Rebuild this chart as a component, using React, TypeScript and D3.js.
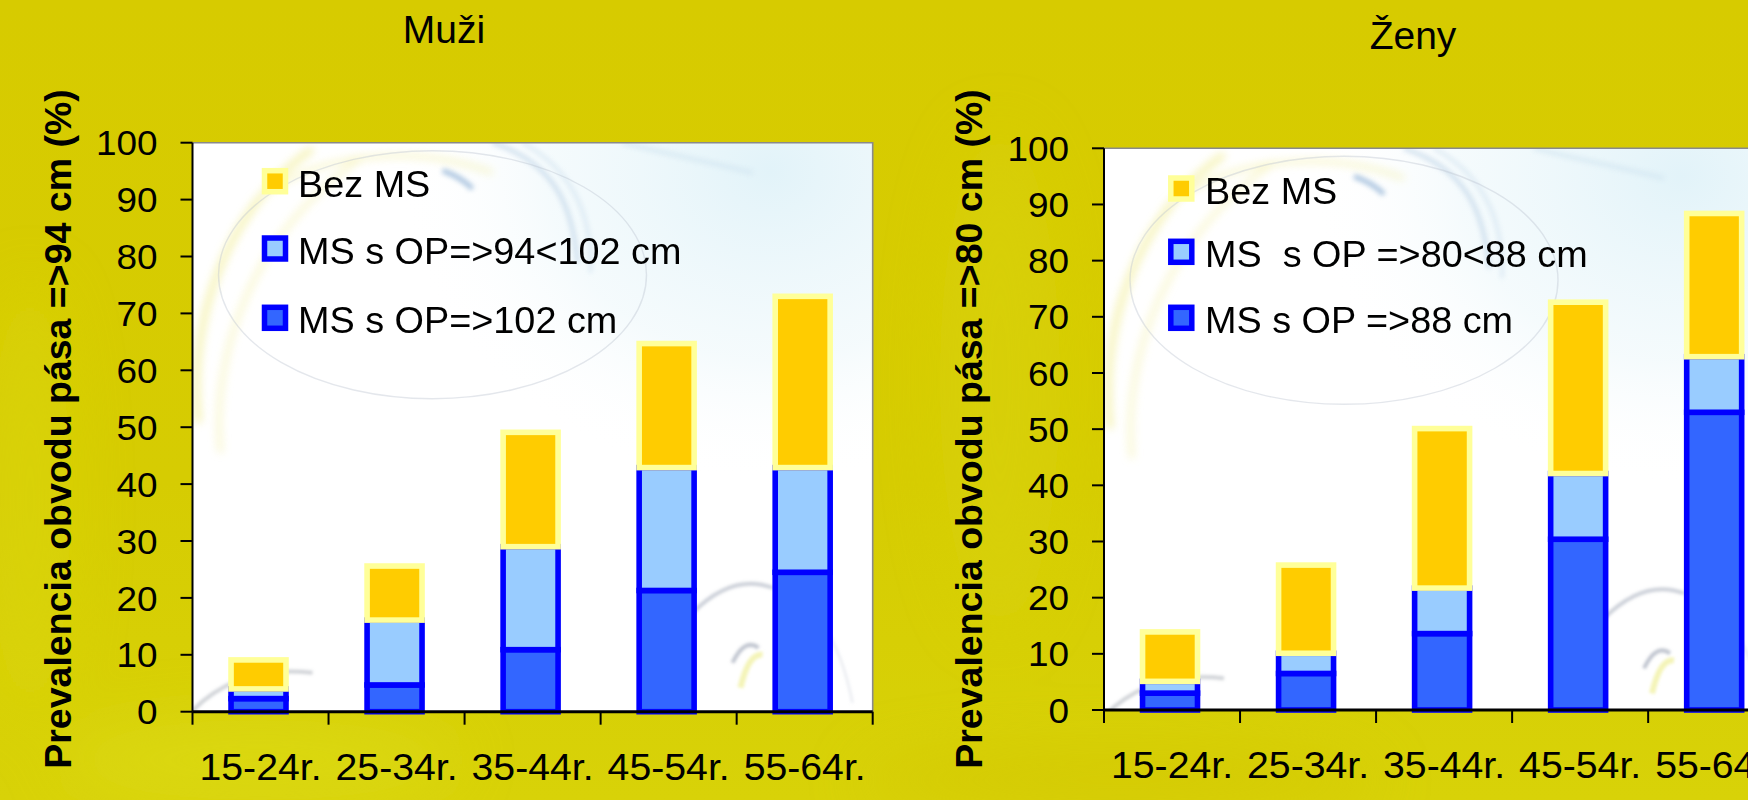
import React, { useEffect } from 'react';
import * as d3 from 'd3';

const WIDTH = 1748;
const HEIGHT = 800;
const FONT = '"Liberation Sans", Arial, Helvetica, sans-serif';

// Age groups and axis ticks
const categories = ['15-24r.', '25-34r.', '35-44r.', '45-54r.', '55-64r.'];
const yTicks = [0, 10, 20, 30, 40, 50, 60, 70, 80, 90, 100];

// Men (%): stacked from the bottom
const menWaistOver102 = [2.3, 4.7, 10.9, 21.3, 24.5];
const menWaist94to102 = [1.7, 11.4, 18.1, 21.6, 18.4];
const menNoMS = [5.1, 9.5, 20.1, 21.8, 30.1];

// Women (%): stacked from the bottom
const womenWaistOver88 = [3.0, 6.5, 13.6, 30.4, 53.0];
const womenWaist80to88 = [2.1, 3.6, 8.1, 11.7, 9.9];
const womenNoMS = [8.8, 15.7, 28.4, 30.5, 25.5];

const menLegend = ['Bez MS', 'MS s OP=>94<102 cm', 'MS s OP=>102 cm'];
const womenLegend = ['Bez MS', 'MS  s OP =>80<88 cm', 'MS s OP =>88 cm'];

const KEYS = ['high', 'mid', 'none'] as const;
type Key = (typeof KEYS)[number];

const STYLE: Record<Key, { fill: string; stroke: string }> = {
  high: { fill: '#3366FF', stroke: '#0000FF' },
  mid: { fill: '#99CCFF', stroke: '#0000FF' },
  none: { fill: '#FFCC00', stroke: '#FFFF99' },
};

type PanelProps = {
  id: string;
  title: string;
  titleX: number;
  titleY: number;
  yTitle: string;
  yTitleX: number;
  yTitleY: number;
  left: number;
  top: number;
  bottom: number;
  high: number[];
  mid: number[];
  none: number[];
  legend: string[];
  legendSwatchX: number;
  legendTextX: number;
  legendBaselines: number[];
};

const PLOT_W = 680.2;

// Text in this slide is rendered slightly wide; stretch glyphs horizontally around an anchor.
function Wide({ x, y, sx = 1.05, children }: { x: number; y: number; sx?: number; children: React.ReactNode }) {
  return <g transform={`translate(${x},${y}) scale(${sx},1)`}>{children}</g>;
}

function Decor({ w, h }: { w: number; h: number }) {
  return (
    <g>
      <rect x={0} y={0} width={w} height={h} fill="#ffffff" />
      <rect x={0} y={0} width={w} height={h} fill="url(#cyanTint)" />
      {/* faint yellow swirls at the left */}
      <g filter="url(#soft3)" fill="none" opacity={0.7}>
        <path d="M 6 280 C -4 180, 30 70, 120 6" stroke="#f2ee9a" strokeWidth={7} />
        <path d="M 28 310 C 18 210, 60 90, 170 14" stroke="#f6f3b8" strokeWidth={5} />
        <path d="M 60 60 C 120 10, 220 0, 300 30" stroke="#f4f0a8" strokeWidth={4} />
      </g>
      {/* blue streaks falling from the top */}
      <g filter="url(#soft2)" fill="none" opacity={0.65}>
        <path d="M 300 0 C 360 20, 380 60, 385 120" stroke="#b8cfe4" strokeWidth={4} />
        <path d="M 330 0 C 385 30, 400 80, 398 130" stroke="#c8dcec" strokeWidth={3} />
        <path d="M 250 28 C 262 32, 272 38, 280 46" stroke="#7fa6cf" strokeWidth={5} />
        <path d="M 430 0 C 470 10, 520 20, 560 30" stroke="#cfe3ef" strokeWidth={4} />
      </g>
      {/* thin ring */}
      <ellipse cx={240} cy={132} rx={214} ry={124} fill="none" stroke="#bcc2cf" strokeWidth={1.4} opacity={0.4} />
      {/* arcs near the bottom */}
      <g filter="url(#soft1)" fill="none">
        <path d="M 0 568 Q 45 522 120 530" stroke="#9aa0a8" strokeWidth={4} opacity={0.45} />
        <path d="M 500 470 Q 540 430 580 445" stroke="#9ca4b4" strokeWidth={4} opacity={0.5} />
        <path d="M 540 520 Q 552 495 566 505" stroke="#8c96a8" strokeWidth={4} opacity={0.55} />
        <path d="M 548 545 Q 556 510 570 512" stroke="#eeee90" strokeWidth={6} opacity={0.65} />
        <path d="M 580 445 Q 640 460 660 560" stroke="#c5cdd8" strokeWidth={2} opacity={0.45} />
      </g>
    </g>
  );
}

function Panel(p: PanelProps) {
  const x = d3
    .scaleBand<string>()
    .domain(categories)
    .range([p.left, p.left + PLOT_W])
    .paddingInner(0.596)
    .paddingOuter(0.298);
  const y = d3.scaleLinear().domain([0, 100]).range([p.bottom, p.top]);

  const rows = categories.map((c, i) => ({ cat: c, high: p.high[i], mid: p.mid[i], none: p.none[i] }));
  const stacked = d3.stack<any>().keys(KEYS as unknown as string[])(rows);

  const step = x.step();
  const boundaries = d3.range(categories.length + 1).map((i) => p.left + i * step);
  const plotH = p.bottom - p.top;
  const legendOrder: Key[] = ['none', 'mid', 'high'];

  return (
    <g>
      <clipPath id={`clip-${p.id}`}>
        <rect x={p.left} y={p.top} width={PLOT_W} height={plotH} />
      </clipPath>
      <g clipPath={`url(#clip-${p.id})`}>
        <g transform={`translate(${p.left},${p.top})`}>
          <Decor w={PLOT_W} h={plotH} />
        </g>
      </g>
      {/* plot frame: top and right edges */}
      <path
        d={`M ${p.left} ${p.top} H ${p.left + PLOT_W} V ${p.bottom}`}
        fill="none"
        stroke="#8a8a8a"
        strokeWidth={1.6}
      />

      {/* stacked bars */}
      {stacked.map((layer) => (
        <g key={layer.key}>
          {layer.map((d, i) => (
            <rect
              key={i}
              x={x(categories[i])! - 2}
              y={y(d[1])}
              width={x.bandwidth()}
              height={y(d[0]) - y(d[1])}
              fill={STYLE[layer.key as Key].fill}
              stroke={STYLE[layer.key as Key].stroke}
              strokeWidth={5.6}
            />
          ))}
        </g>
      ))}

      {/* y axis */}
      <line x1={p.left} x2={p.left} y1={p.top} y2={p.bottom} stroke="#000" strokeWidth={2} />
      {yTicks.map((t) => (
        <g key={t}>
          <line x1={p.left - 12} x2={p.left} y1={y(t)} y2={y(t)} stroke="#000" strokeWidth={2} />
          <Wide x={p.left - 35} y={y(t)} sx={1.04}>
            <text dy="0.355em" textAnchor="end" fontSize={35.5} fontFamily={FONT} fill="#000">
              {t}
            </text>
          </Wide>
        </g>
      ))}

      {/* x axis */}
      <line x1={p.left} x2={p.left + PLOT_W} y1={p.bottom} y2={p.bottom} stroke="#000" strokeWidth={3} />
      {boundaries.map((bx, i) => (
        <line key={i} x1={bx} x2={bx} y1={p.bottom} y2={p.bottom + 13} stroke="#000" strokeWidth={2} />
      ))}
      {categories.map((c) => (
        <Wide key={c} x={x(c)! + x.bandwidth() / 2} y={p.bottom + 68} sx={1.06}>
          <text textAnchor="middle" fontSize={37} fontFamily={FONT} fill="#000">
            {c}
          </text>
        </Wide>
      ))}

      {/* legend */}
      {legendOrder.map((k, i) => (
        <g key={k}>
          <rect
            x={p.legendSwatchX - 10.5}
            y={p.legendBaselines[i] - 26}
            width={21}
            height={21}
            fill={STYLE[k].fill}
            stroke={STYLE[k].stroke}
            strokeWidth={5.5}
          />
          <Wide x={p.legendTextX} y={p.legendBaselines[i]} sx={1.05}>
            <text fontSize={36} fontFamily={FONT} fill="#000" style={{ whiteSpace: 'pre' }}>
              {p.legend[i]}
            </text>
          </Wide>
        </g>
      ))}

      {/* titles */}
      <text x={p.titleX} y={p.titleY} textAnchor="middle" fontSize={39} fontFamily={FONT} fill="#000">
        {p.title}
      </text>
      <text
        transform={`translate(${p.yTitleX},${p.yTitleY}) rotate(-90)`}
        textAnchor="middle"
        fontSize={37.5}
        fontWeight="bold"
        fontFamily={FONT}
        fill="#000"
      >
        {p.yTitle}
      </text>
    </g>
  );
}

export default function App() {
  useEffect(() => {
    document.body.style.margin = '0';
  }, []);

  return (
    <svg
      width={WIDTH}
      height={HEIGHT}
      viewBox={`0 0 ${WIDTH} ${HEIGHT}`}
      style={{ position: 'absolute', left: 0, top: 0, display: 'block' }}
    >
      <defs>
        <linearGradient id="bgGrad" x1="0" y1="0" x2="0" y2="1">
          <stop offset="0" stopColor="#d7cb00" />
          <stop offset="0.6" stopColor="#d6cc02" />
          <stop offset="1" stopColor="#d8d208" />
        </linearGradient>
        <radialGradient id="cyanTint" cx="0.85" cy="0.05" r="0.55">
          <stop offset="0" stopColor="#e2f3f9" stopOpacity={1} />
          <stop offset="0.6" stopColor="#eef8fb" stopOpacity={0.6} />
          <stop offset="1" stopColor="#ffffff" stopOpacity={0} />
        </radialGradient>
        <filter id="soft1" x="-20%" y="-20%" width="140%" height="140%">
          <feGaussianBlur stdDeviation={1.5} />
        </filter>
        <filter id="soft2" x="-20%" y="-20%" width="140%" height="140%">
          <feGaussianBlur stdDeviation={2.5} />
        </filter>
        <filter id="soft3" x="-20%" y="-20%" width="140%" height="140%">
          <feGaussianBlur stdDeviation={4} />
        </filter>
        <filter id="bgBlur" x="-50%" y="-50%" width="200%" height="200%">
          <feGaussianBlur stdDeviation={30} />
        </filter>
      </defs>

      {/* slide background */}
      <rect x={0} y={0} width={WIDTH} height={HEIGHT} fill="url(#bgGrad)" />
      <g filter="url(#bgBlur)" opacity={0.55}>
        <ellipse cx={260} cy={760} rx={200} ry={40} fill="#dede1a" />
        <ellipse cx={30} cy={500} rx={40} ry={220} fill="#dcd810" />
        <ellipse cx={1120} cy={780} rx={260} ry={30} fill="#d2c400" />
        <ellipse cx={1000} cy={380} rx={60} ry={250} fill="#d9d30c" />
      </g>

      <Panel
        id="men"
        title="Muži"
        titleX={444}
        titleY={43}
        yTitle="Prevalencia obvodu pása =>94 cm (%)"
        yTitleX={71}
        yTitleY={429}
        left={192.5}
        top={142.7}
        bottom={711.7}
        high={menWaistOver102}
        mid={menWaist94to102}
        none={menNoMS}
        legend={menLegend}
        legendSwatchX={275}
        legendTextX={298}
        legendBaselines={[196.7, 264, 333.3]}
      />
      <Panel
        id="women"
        title="Ženy"
        titleX={1413}
        titleY={49}
        yTitle="Prevalencia obvodu pása =>80 cm (%)"
        yTitleX={982}
        yTitleY={429}
        left={1104}
        top={148.3}
        bottom={710}
        high={womenWaistOver88}
        mid={womenWaist80to88}
        none={womenNoMS}
        legend={womenLegend}
        legendSwatchX={1181.3}
        legendTextX={1205}
        legendBaselines={[204, 267.3, 333.3]}
      />
    </svg>
  );
}
